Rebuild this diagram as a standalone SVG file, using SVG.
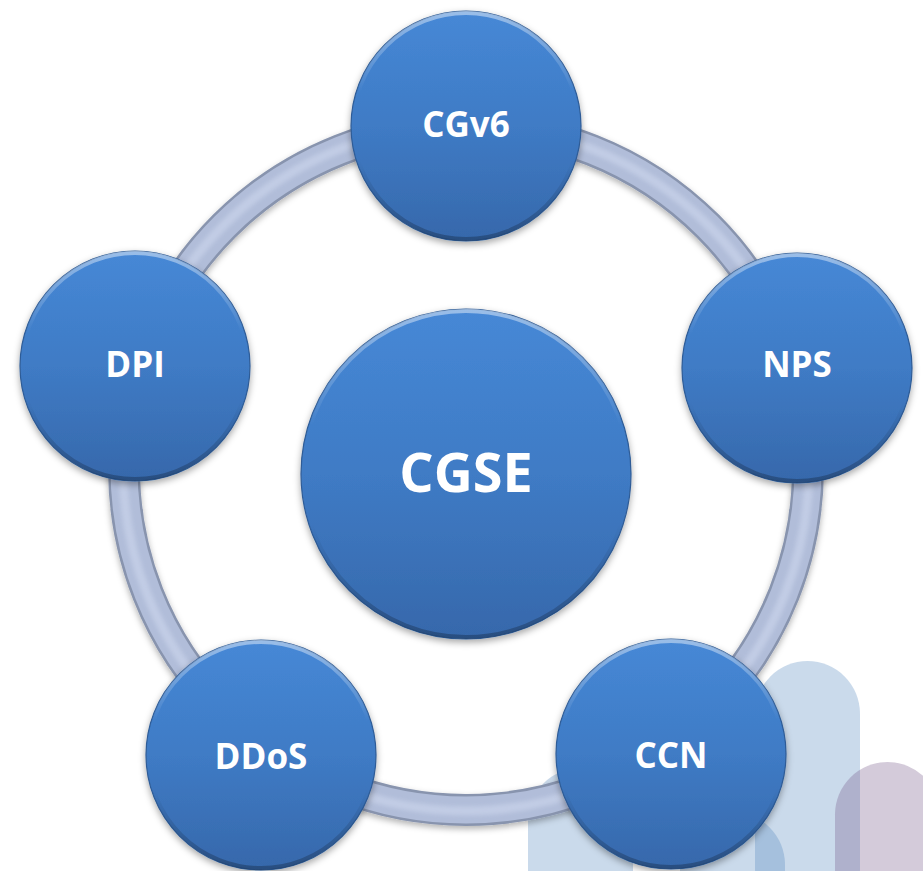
<svg xmlns="http://www.w3.org/2000/svg" width="923" height="871" viewBox="0 0 923 871">
  <defs>
    <linearGradient id="diskGrad" x1="0" y1="0" x2="0" y2="1">
      <stop offset="0" stop-color="#4688d6"/>
      <stop offset="0.5" stop-color="#3f7bc5"/>
      <stop offset="1" stop-color="#3668ab"/>
    </linearGradient>
    <linearGradient id="bevelGrad" x1="0" y1="0" x2="0" y2="1">
      <stop offset="0" stop-color="#ffffff" stop-opacity="0.45"/>
      <stop offset="0.35" stop-color="#ffffff" stop-opacity="0"/>
      <stop offset="0.65" stop-color="#000000" stop-opacity="0"/>
      <stop offset="1" stop-color="#000000" stop-opacity="0.25"/>
    </linearGradient>
    <filter id="shadow" x="-20%" y="-20%" width="140%" height="140%">
      <feDropShadow dx="0" dy="3" stdDeviation="3.5" flood-color="#000000" flood-opacity="0.35"/>
    </filter>
    <filter id="ringShadow" x="-10%" y="-10%" width="120%" height="120%">
      <feDropShadow dx="0" dy="3" stdDeviation="3" flood-color="#000000" flood-opacity="0.3"/>
    </filter>
    <filter id="soft" x="-10%" y="-10%" width="120%" height="120%">
      <feGaussianBlur stdDeviation="2"/>
    </filter>
  </defs>
  <style>
    .bar { fill: #4f83bd; fill-opacity: 0.3; }
    .barP { fill: #705284; fill-opacity: 0.3; }
    .ring { fill: none; }
    .disk { fill: url(#diskGrad); stroke: #2e5c97; stroke-width: 1.2; filter: url(#shadow); }
    .bevel { fill: none; stroke: url(#bevelGrad); stroke-width: 4; }
    .lbl { font-family: "Open Sans", "Liberation Sans", sans-serif; font-weight: bold; fill: #ffffff; text-anchor: middle; font-size: 35px; }
    .big { font-size: 54px; }
  </style>

  <!-- background decoration -->
  <g id="background">
    <rect class="bar" x="755" y="661" width="105" height="260" rx="52.5"/>
    <rect class="bar" x="528" y="768" width="105" height="160" rx="52.5"/>
    <rect class="bar" x="680" y="812" width="105" height="120" rx="52.5"/>
    <rect class="barP" x="835" y="762" width="105" height="160" rx="52.5"/>
  </g>

  <!-- connectors: the ring -->
  <g id="connectors">
    <circle class="ring" cx="466" cy="468" r="342" stroke="#8894ae" stroke-width="32" filter="url(#ringShadow)"/>
    <circle class="ring" cx="466" cy="468" r="342" stroke="#b1bdd9" stroke-width="27"/>
    <circle class="ring" cx="466" cy="468" r="343" stroke="#c6d0e8" stroke-width="9" filter="url(#soft)" opacity="0.8"/>
  </g>

  <g id="cgse">
    <circle class="disk" cx="466" cy="474" r="165"/>
    <circle class="bevel" cx="466" cy="474" r="163"/>
    <text class="lbl big" x="466" y="492">CGSE</text>
  </g>

  <g id="cgv6">
    <circle class="disk" cx="466" cy="126" r="115"/>
    <circle class="bevel" cx="466" cy="126" r="113"/>
    <text class="lbl" x="466" y="137">CGv6</text>
  </g>

  <g id="nps">
    <circle class="disk" cx="797" cy="368" r="115"/>
    <circle class="bevel" cx="797" cy="368" r="113"/>
    <text class="lbl" x="797" y="377">NPS</text>
  </g>

  <g id="dpi">
    <circle class="disk" cx="135" cy="366" r="115"/>
    <circle class="bevel" cx="135" cy="366" r="113"/>
    <text class="lbl" x="135" y="377">DPI</text>
  </g>

  <g id="ddos">
    <circle class="disk" cx="261" cy="755" r="115"/>
    <circle class="bevel" cx="261" cy="755" r="113"/>
    <text class="lbl" x="261" y="769">DDoS</text>
  </g>

  <g id="ccn">
    <circle class="disk" cx="671" cy="754" r="115"/>
    <circle class="bevel" cx="671" cy="754" r="113"/>
    <text class="lbl" x="671" y="768">CCN</text>
  </g>
</svg>
